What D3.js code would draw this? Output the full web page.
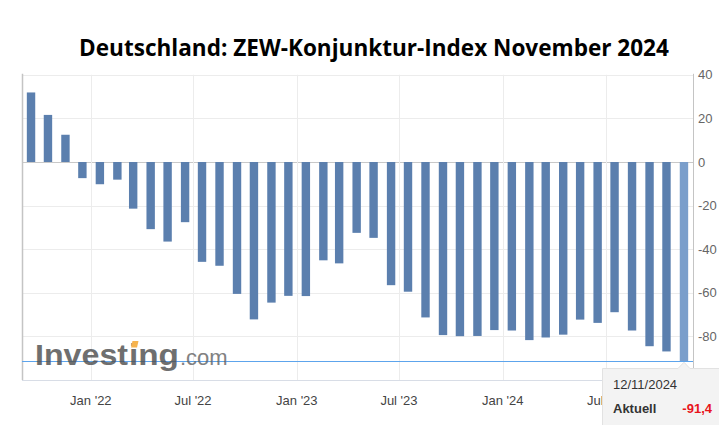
<!DOCTYPE html>
<html><head><meta charset="utf-8">
<script src="https://cdn.jsdelivr.net/npm/d3@7"></script>
<style>html,body{margin:0;padding:0;background:#fff;}svg{display:block;}</style>
</head><body>
<svg id="c" width="719" height="425"></svg>
<script>
const titleText = "Deutschland: ZEW-Konjunktur-Index November 2024";
const months = ["2021-09","2021-10","2021-11","2021-12","2022-01","2022-02","2022-03","2022-04","2022-05","2022-06","2022-07","2022-08","2022-09","2022-10","2022-11","2022-12","2023-01","2023-02","2023-03","2023-04","2023-05","2023-06","2023-07","2023-08","2023-09","2023-10","2023-11","2023-12","2024-01","2024-02","2024-03","2024-04","2024-05","2024-06","2024-07","2024-08","2024-09","2024-10","2024-11"];
const values = [31.9,21.6,12.5,-7.4,-10.2,-8.1,-21.4,-30.8,-36.5,-27.6,-45.8,-47.6,-60.5,-72.2,-64.5,-61.4,-61.5,-45.1,-46.5,-32.5,-34.8,-56.5,-59.5,-71.3,-79.4,-79.9,-79.8,-77.1,-77.3,-81.7,-80.5,-79.2,-72.3,-73.8,-68.9,-77.3,-84.5,-86.9,-91.4];
const yTicks = [40,20,0,-20,-40,-60,-80];
const xTickDates = ["2022-01-01","2022-07-01","2023-01-01","2023-07-01","2024-01-01","2024-07-01"];
const xTickLabels = ["Jan '22","Jul '22","Jan '23","Jul '23","Jan '24","Jul '24"];
const tooltipDate = "12/11/2024";
const tooltipLabel = "Aktuell";
const tooltipValue = "-91,4";

const svg = d3.select("#c");
const L = 22, R = 693, T = 74.8, B = 380;
const x = d3.scaleUtc().domain([Date.UTC(2021,8,1), Date.UTC(2024,11,3)]).range([L, R]);
const y = d3.scaleLinear().domain([-100, 40]).range([B, T]);
const barDate = m => { const [yy, mm] = m.split("-").map(Number); return Date.UTC(yy, mm-1, 17); };
const tickDate = s => { const [yy, mm, dd] = s.split("-").map(Number); return Date.UTC(yy, mm-1, dd); };

// title
const title = svg.append("text").attr("x", 374).attr("y", 56).attr("text-anchor","middle")
  .attr("font-family","'Open Sans', 'Noto Sans', sans-serif").attr("font-weight",700)
  .attr("font-size",24).attr("fill","#000").text(titleText);
const tw = title.node().getComputedTextLength();
title.attr("font-size", 24*590/tw);

// grid
const g = svg.append("g");
g.selectAll("line.hg").data(yTicks).join("line").attr("class","hg")
  .attr("x1",L).attr("x2",R).attr("y1",d=>Math.round(y(d))+0.5).attr("y2",d=>Math.round(y(d))+0.5)
  .attr("stroke", d => d===0 ? "#c8c8c8" : "#ececec").attr("stroke-width",1);
g.selectAll("line.vg").data(xTickDates).join("line").attr("class","vg")
  .attr("x1",d=>Math.round(x(tickDate(d)))+0.5).attr("x2",d=>Math.round(x(tickDate(d)))+0.5)
  .attr("y1",T).attr("y2",B).attr("stroke","#ececec");
// frame
g.append("line").attr("x1",L+0.5).attr("x2",L+0.5).attr("y1",T-1).attr("y2",B).attr("stroke","#c4c4c4").attr("stroke-width",1.5);
g.append("line").attr("x1",R+0.5).attr("x2",R+0.5).attr("y1",T-1).attr("y2",B).attr("stroke","#c4c4c4");
g.append("line").attr("x1",L).attr("x2",R).attr("y1",B+0.5).attr("y2",B+0.5).attr("stroke","#d8dde6");

// bars
const bw = 8.4;
svg.append("g").selectAll("rect").data(months.map((m,i)=>({m, v: values[i], i})))
  .join("rect")
  .attr("x", d => x(barDate(d.m)) - bw/2)
  .attr("width", bw)
  .attr("y", d => y(Math.max(0, d.v)))
  .attr("height", d => Math.abs(y(d.v) - y(0)))
  .attr("fill", d => d.i === months.length-1 ? "#7a9ecb" : "#5b7fae");

// crosshair
const lastV = values[values.length-1];
svg.append("line").attr("x1",L).attr("x2",R).attr("y1",Math.round(y(lastV))+0.5).attr("y2",Math.round(y(lastV))+0.5)
  .attr("stroke","#5da4ec").attr("stroke-width",1);

// logo (watermark)
const logo = svg.append("g").attr("opacity",0.82);
const logoText = logo.append("text").attr("y",365)
  .attr("font-family","'Liberation Sans', Arial, sans-serif").attr("font-weight",700)
  .attr("font-size",29).attr("fill","#505050");
logoText.append("tspan").attr("x",35).attr("textLength",93).attr("lengthAdjust","spacingAndGlyphs").text("Invest");
logoText.append("tspan").attr("x",129).attr("textLength",50).attr("lengthAdjust","spacingAndGlyphs").text("ing");
logo.append("text").attr("x",180).attr("y",365)
  .attr("font-family","'Liberation Sans', Arial, sans-serif").attr("font-size",22)
  .attr("fill","#666").text(".com");
logo.append("path").attr("d", "M131,347.5 L137,347.5 L138.5,341 L132.5,341 Z").attr("fill","#f5a428");

// y axis labels
svg.append("g").selectAll("text").data(yTicks).join("text")
  .attr("x", 698).attr("y", d => y(d) + 4.5)
  .attr("font-family","'Liberation Sans', Arial, sans-serif").attr("font-size",13)
  .attr("fill","#666").text(d => d);

// x axis labels
svg.append("g").selectAll("text").data(xTickDates).join("text")
  .attr("x", d => x(tickDate(d))).attr("y", 405).attr("text-anchor","middle")
  .attr("font-family","'Liberation Sans', Arial, sans-serif").attr("font-size",13)
  .attr("fill","#444").text((d,i) => xTickLabels[i]);

// tooltip
const lx = x(barDate(months[months.length-1]));
const tt = svg.append("g");
tt.append("path").attr("d", `M602.5,368.5 L${lx-6},368.5 L${lx},${y(lastV)+1} L${lx+6},368.5 L725,368.5 L725,430 L602.5,430 Z`)
  .attr("fill","#f3f3f3").attr("stroke","#e2e2e2").attr("stroke-width",1);
tt.append("text").attr("x",613).attr("y",389).attr("font-family","'Liberation Sans', Arial, sans-serif")
  .attr("font-size",13).attr("fill","#333").text(tooltipDate);
tt.append("text").attr("x",613).attr("y",413).attr("font-family","'Liberation Sans', Arial, sans-serif")
  .attr("font-size",13).attr("font-weight",700).attr("fill","#333").text(tooltipLabel);
tt.append("text").attr("x",712).attr("y",413).attr("text-anchor","end").attr("font-family","'Liberation Sans', Arial, sans-serif")
  .attr("font-size",13).attr("font-weight",700).attr("fill","#e8141b").text(tooltipValue);
</script>
</body></html>
